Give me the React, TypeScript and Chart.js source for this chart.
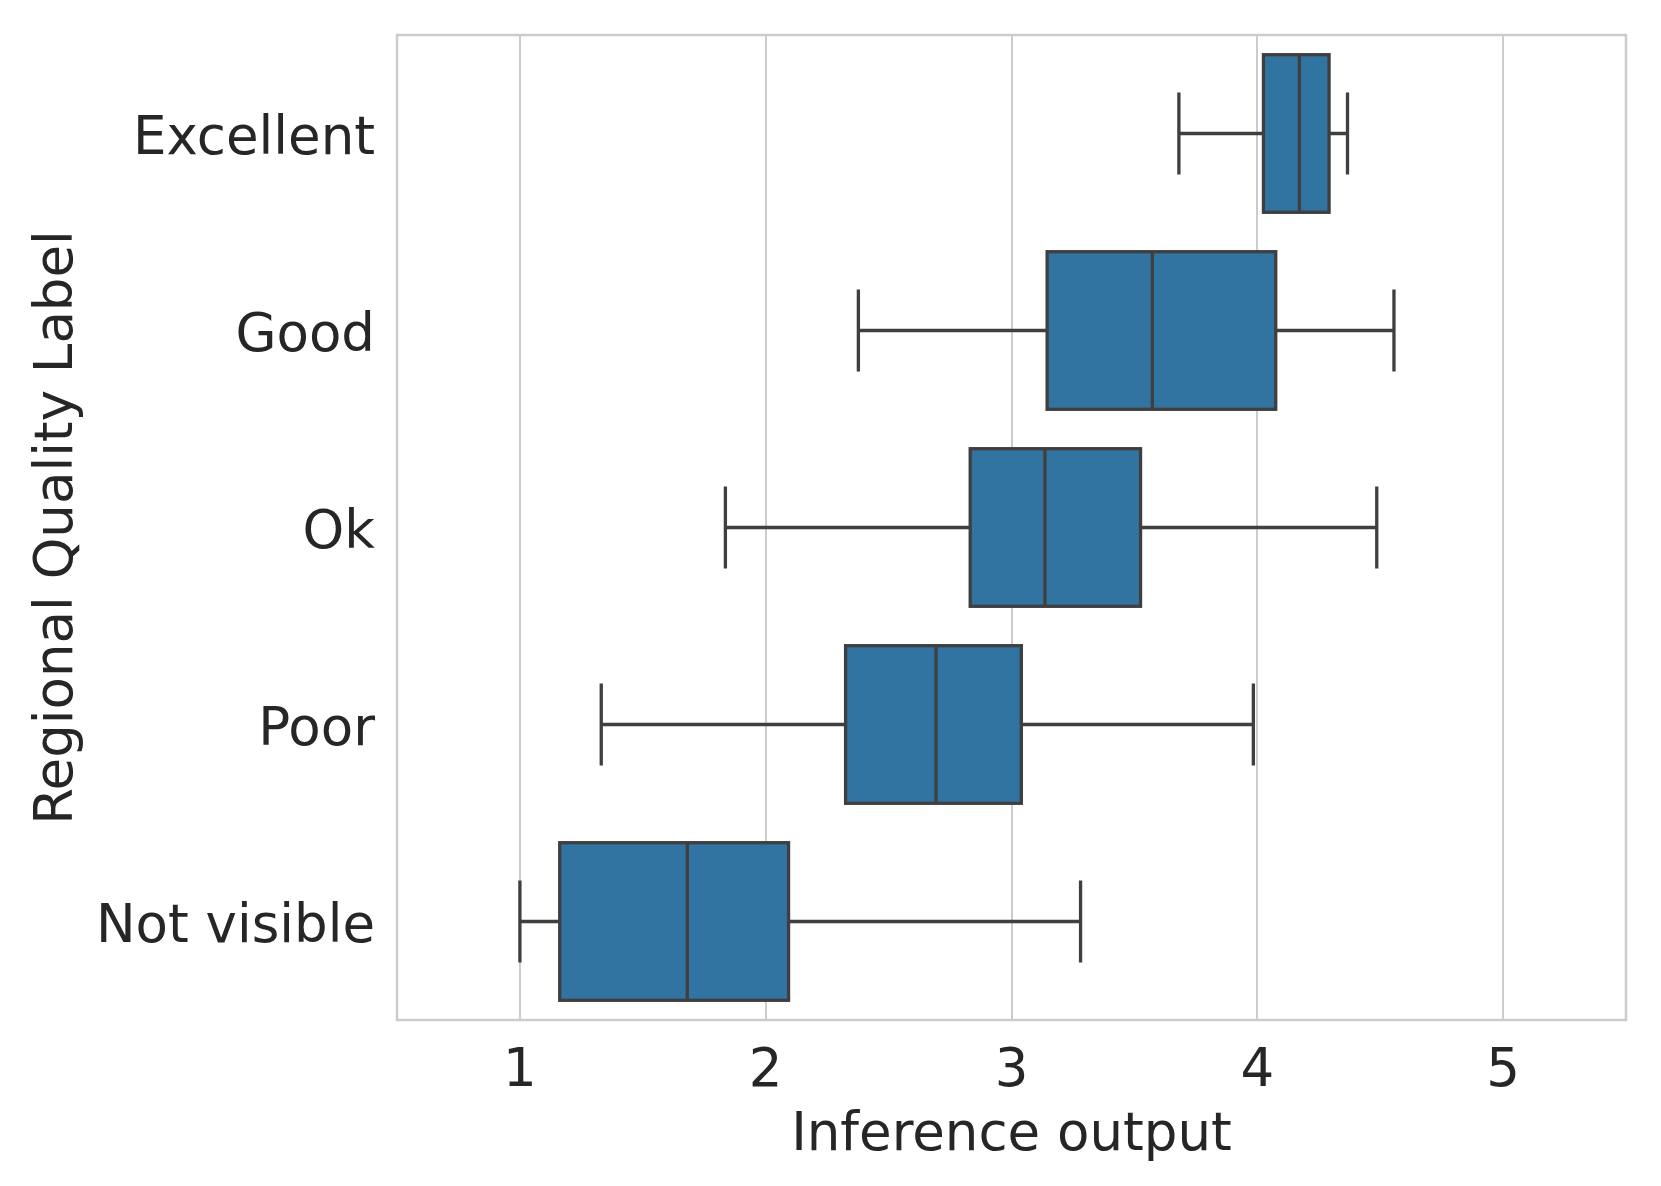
import React, { useEffect, useRef } from "react";
import { Chart, registerables } from "chart.js";

Chart.register(...registerables);

// ---- data ----
const categories = ["Excellent", "Good", "Ok", "Poor", "Not visible"];
const whiskerLow = [3.681, 2.377, 1.836, 1.331, 1.0];
const q1 = [4.025, 3.145, 2.832, 2.325, 1.162];
const median = [4.171, 3.573, 3.136, 2.693, 1.681];
const q3 = [4.292, 4.075, 3.525, 3.04, 2.093];
const whiskerHigh = [4.367, 4.556, 4.486, 3.984, 3.281];
const xTickValues = [1, 2, 3, 4, 5];
const xMin = 0.5;
const xMax = 5.5;

const FONT = "'DejaVu Sans', 'Liberation Sans', sans-serif";
const FONT_SIZE = 53;
const TEXT = "#262626";
const BOX_FILL = "#3274a1";
const LINE = "#3f3f3f";
const LINE_W = 3.3;
const GRID = "#cccccc";

const boxPlugin = {
  id: "boxDecor",
  beforeDatasetsDraw(chart: any) {
    const { ctx, chartArea, scales } = chart;
    const x = scales.x;
    const y = scales.y;
    // frame
    ctx.save();
    ctx.strokeStyle = GRID;
    ctx.lineWidth = 2.5;
    ctx.strokeRect(
      chartArea.left,
      chartArea.top,
      chartArea.right - chartArea.left,
      chartArea.bottom - chartArea.top
    );
    ctx.restore();
    // whiskers
    const meta = chart.getDatasetMeta(0);
    ctx.save();
    ctx.strokeStyle = LINE;
    ctx.lineWidth = LINE_W;
    ctx.lineCap = "square";
    categories.forEach((_, i) => {
      const el = meta.data[i];
      const h = el.height;
      const cy = y.getPixelForValue(i);
      const xl = x.getPixelForValue(whiskerLow[i]);
      const xa = x.getPixelForValue(q1[i]);
      const xb = x.getPixelForValue(q3[i]);
      const xh = x.getPixelForValue(whiskerHigh[i]);
      ctx.beginPath();
      ctx.moveTo(xl, cy);
      ctx.lineTo(xa, cy);
      ctx.moveTo(xb, cy);
      ctx.lineTo(xh, cy);
      ctx.moveTo(xl, cy - h / 4);
      ctx.lineTo(xl, cy + h / 4);
      ctx.moveTo(xh, cy - h / 4);
      ctx.lineTo(xh, cy + h / 4);
      ctx.stroke();
    });
    ctx.restore();
  },
  afterDatasetsDraw(chart: any) {
    const { ctx, scales } = chart;
    const x = scales.x;
    const meta = chart.getDatasetMeta(0);
    ctx.save();
    ctx.strokeStyle = LINE;
    ctx.lineWidth = LINE_W;
    ctx.lineJoin = "miter";
    ctx.lineCap = "butt";
    categories.forEach((_, i) => {
      const el = meta.data[i];
      const p = el.getProps(["x", "base", "y", "height"], true);
      const left = Math.min(p.x, p.base);
      const w = Math.abs(p.x - p.base);
      const top = p.y - p.height / 2;
      ctx.strokeRect(left, top, w, p.height);
      const xm = x.getPixelForValue(median[i]);
      ctx.beginPath();
      ctx.moveTo(xm, top);
      ctx.lineTo(xm, top + p.height);
      ctx.stroke();
    });
    ctx.restore();
  },
};

export default function App() {
  const canvasRef = useRef<HTMLCanvasElement | null>(null);

  useEffect(() => {
    document.body.style.margin = "0";
    const canvas = canvasRef.current;
    if (!canvas) return;
    const chart = new Chart(canvas, {
      type: "bar",
      data: {
        labels: categories,
        datasets: [
          {
            data: q1.map((v, i) => [v, q3[i]]) as any,
            backgroundColor: BOX_FILL,
            borderWidth: 0,
            categoryPercentage: 0.8,
            barPercentage: 1,
          },
        ],
      },
      options: {
        indexAxis: "y",
        animation: false,
        responsive: true,
        maintainAspectRatio: false,
        events: [],
        layout: { padding: { top: 35, right: 35, left: 0, bottom: 0 } },
        plugins: {
          legend: { display: false },
          tooltip: { enabled: false },
        },
        scales: {
          x: {
            type: "linear",
            min: xMin,
            max: xMax,
            afterBuildTicks: (scale: any) => {
              scale.ticks = xTickValues.map((v) => ({ value: v }));
            },
            afterFit: (scale: any) => {
              scale.height = 166;
              scale.paddingLeft = 0;
              scale.paddingRight = 0;
            },
            grid: { color: GRID, lineWidth: 2, drawTicks: false },
            border: { display: false },
            ticks: {
              padding: 20,
              color: TEXT,
              font: { family: FONT, size: FONT_SIZE },
              callback: (v: any) => String(v),
            },
            title: {
              display: true,
              text: "Inference output",
              color: TEXT,
              font: { family: FONT, size: FONT_SIZE },
              padding: { top: 0, bottom: 18 },
            },
          },
          y: {
            type: "category",
            afterFit: (scale: any) => {
              scale.width = 397;
              scale.paddingTop = 0;
              scale.paddingBottom = 0;
            },
            grid: { display: false, drawTicks: false },
            border: { display: false },
            ticks: {
              padding: 22,
              labelOffset: 7,
              color: TEXT,
              font: { family: FONT, size: FONT_SIZE },
            },
            title: {
              display: true,
              text: "Regional Quality Label",
              color: TEXT,
              font: { family: FONT, size: FONT_SIZE },
              padding: { top: 26, bottom: 0 },
            },
          },
        },
      },
      plugins: [boxPlugin],
    });
    return () => chart.destroy();
  }, []);

  return (
    <div style={{ position: "relative", width: 1661, height: 1186, background: "#ffffff" }}>
      <canvas ref={canvasRef} />
    </div>
  );
}
